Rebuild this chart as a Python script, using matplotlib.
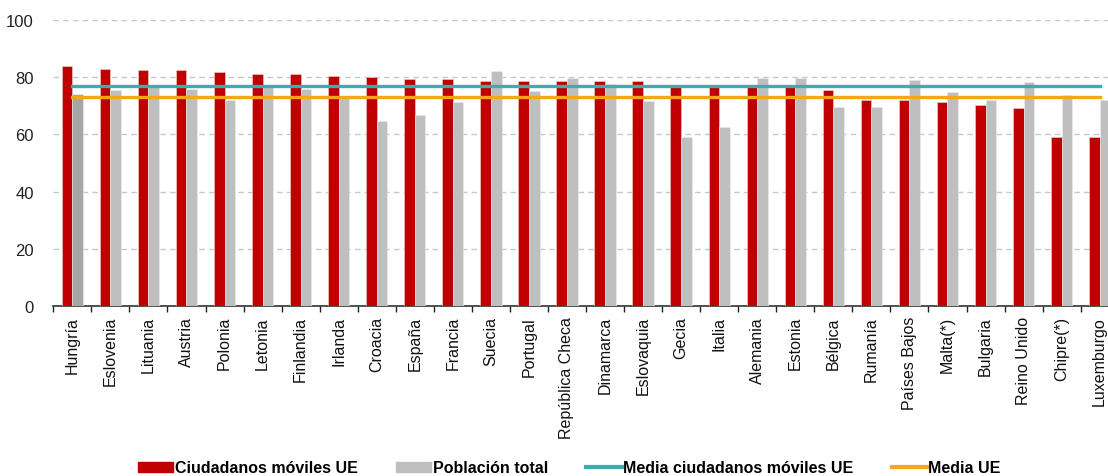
import matplotlib
matplotlib.use('Agg')
import matplotlib.pyplot as plt
from matplotlib.patches import Patch
from matplotlib.lines import Line2D
import numpy as np

plt.rcParams['font.family'] = ['Liberation Sans', 'DejaVu Sans']

# Datos
paises = ['Hungría', 'Eslovenia', 'Lituania', 'Austria', 'Polonia', 'Letonia',
          'Finlandia', 'Irlanda', 'Croacia', 'España', 'Francia', 'Suecia',
          'Portugal', 'República Checa', 'Dinamarca', 'Eslovaquia', 'Gecia',
          'Italia', 'Alemania', 'Estonia', 'Bélgica', 'Rumanía', 'Países Bajos',
          'Malta(*)', 'Bulgaria', 'Reino Unido', 'Chipre(*)', 'Luxemburgo']
moviles = [83.9, 82.8, 82.3, 82.3, 81.6, 81.0, 81.0, 80.5, 79.9, 79.3, 79.3, 78.7,
           78.7, 78.7, 78.7, 78.7, 77.0, 77.0, 77.0, 77.0, 75.5, 71.9, 71.9,
           71.3, 70.1, 69.1, 59.2, 59.2]
total = [74.1, 75.4, 77.2, 75.8, 71.9, 77.2, 75.8, 73.5, 64.8, 66.6, 71.2, 82.2,
         75.2, 79.5, 77.5, 71.7, 59.2, 62.6, 79.5, 79.5, 69.7, 69.7, 78.9,
         74.8, 71.9, 78.3, 73.6, 71.9]
media_moviles = 77.0
media_ue = 73.0

rojo = '#C00000'
gris = '#BFBFBF'
gris_osc = '#A6A6A6'
turquesa = '#35B0AC'
naranja = '#F9A41E'

fig = plt.figure(figsize=(11.08, 4.77), dpi=100)
# el eje sigue un poco más allá del borde derecho
ax = fig.add_axes([53.3 / 1108, 169.7 / 477, 1065.4 / 1108, 286.6 / 477])

x = np.arange(len(paises))
w = 0.28
colores_total = [gris_osc] + [gris] * (len(paises) - 1)  # primera barra más oscura
ax.bar(x - w / 2, moviles, w, color=rojo, edgecolor='#F2D0D0', linewidth=0.4, zorder=3)
ax.bar(x + w / 2, total, w, color=colores_total, edgecolor='#EEEEEE', linewidth=0.4, zorder=3)
ax.plot(x, [media_moviles] * len(x), color=turquesa, lw=2.4, zorder=4)
ax.plot(x, [media_ue] * len(x), color=naranja, lw=2.4, zorder=4)

ax.set_xlim(-0.5, len(paises) - 0.5)
ax.set_ylim(0, 100)
ax.set_yticks([0, 20, 40, 60, 80, 100])
ax.yaxis.grid(True, ls=(0, (4, 3)), color='#C8C8C8', lw=1.0, zorder=0)
ax.tick_params(axis='y', length=0, labelsize=12, pad=14, labelcolor='#222222')

ax.set_xticks(x)
ax.set_xticklabels(paises, rotation=90, fontsize=11.5, color='#111111')
ax.tick_params(axis='x', which='major', length=0, pad=7)
ax.set_xticks(np.arange(len(paises) + 1) - 0.5, minor=True)
ax.tick_params(axis='x', which='minor', length=4, width=1.0, color='#222222', direction='out')

for s in ['top', 'right', 'left']:
    ax.spines[s].set_visible(False)
ax.spines['bottom'].set_color('#333333')
ax.spines['bottom'].set_linewidth(1.2)

handles = [Patch(color=rojo), Patch(color=gris),
           Line2D([], [], color=turquesa, lw=3), Line2D([], [], color=naranja, lw=3)]
labels = ['Ciudadanos móviles UE', 'Población total',
          'Media ciudadanos móviles UE', 'Media UE']
fig.legend(handles, labels, loc='center', bbox_to_anchor=(0.514, 0.017), ncol=4,
           frameon=False, prop={'weight': 'bold', 'size': 11.5},
           handlelength=2.2, handleheight=0.6, handletextpad=0.1, columnspacing=2.4)

fig.savefig('out.png', dpi=100)
